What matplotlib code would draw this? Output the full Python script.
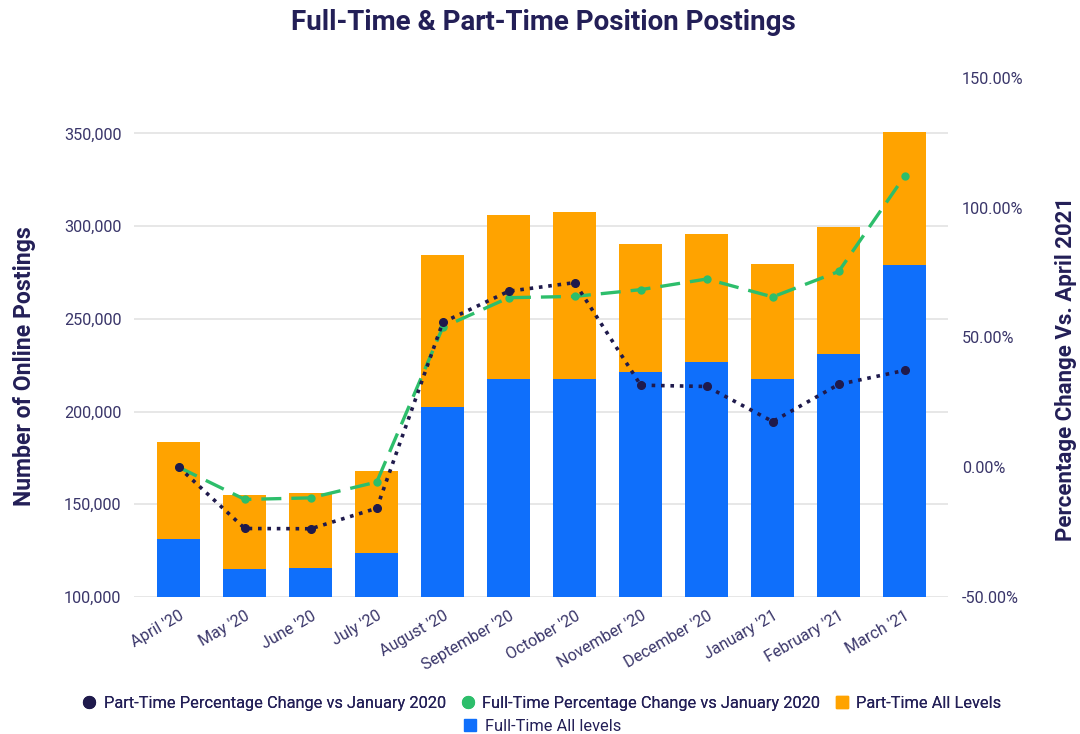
import matplotlib.pyplot as plt
from matplotlib.lines import Line2D
from matplotlib.ticker import FuncFormatter, MultipleLocator

#===============================================================================
months = ["April '20", "May '20", "June '20", "July '20", "August '20",
          "September '20", "October '20", "November '20", "December '20",
          "January '21", "February '21", "March '21"]

full_time = [131200, 115000, 115900, 123800, 202500, 217500,
             217800, 221500, 226900, 217800, 230800, 279100]
total_postings = [183800, 154800, 155900, 167900, 284300, 305800,
                  307800, 290500, 295900, 279500, 299800, 351000]
part_time = [t - f for t, f in zip(total_postings, full_time)]

part_time_pct = [0.0, -23.6, -23.7, -15.8, 55.8, 67.8,
                 71.1, 31.6, 31.1, 17.6, 31.9, 37.3]
full_time_pct = [0.0, -12.4, -11.8, -5.7, 53.9, 65.3,
                 65.8, 68.4, 72.5, 65.6, 75.4, 112.2]

#===============================================================================
NAVY = "#231F57"
TICK = "#3A366A"
BLUE = "#0F6FFB"
ORANGE = "#FFA300"
GREEN = "#2DBE6B"
DARK = "#1F1A4C"

plt.rcParams["font.family"] = ["Roboto", "DejaVu Sans"]

fig = plt.figure(figsize=(10.8, 7.34), dpi=100)
ax = fig.add_axes([0.124, 0.1866, 0.754, 0.7074])
ax2 = ax.twinx()

x = list(range(len(months)))
ax.bar(x, full_time, width=0.65, color=BLUE, zorder=2)
ax.bar(x, part_time, width=0.65, bottom=full_time, color=ORANGE, zorder=2)

ax.set_ylim(100000, 380000)
ax.set_xlim(-0.68, 11.66)
ax.set_yticks([100000, 150000, 200000, 250000, 300000, 350000])
ax.yaxis.set_major_formatter(FuncFormatter(lambda v, p: f"{int(v):,}"))
ax.grid(axis="y", color="#E3E3E3", linewidth=1.2, zorder=0)
ax.set_axisbelow(True)

ax.set_xticks(x)
ax.set_xticklabels(months, rotation=30, ha="right", rotation_mode="anchor")
ax.tick_params(axis="x", length=0, pad=8, labelsize=11.6, labelcolor=TICK)
ax.tick_params(axis="y", length=0, pad=9, labelsize=11.7, labelcolor=TICK)
for s in ax.spines.values():
    s.set_visible(False)

ax.set_ylabel("Number of Online Postings", fontsize=16.6, fontweight="bold",
              color=NAVY)
ax.yaxis.set_label_coords(-0.12, 0.445)

ax2.plot(x, part_time_pct, color=DARK, linestyle=(0, (1, 1.6)), linewidth=2.6,
         marker="o", markersize=5.5, zorder=4)
ax2.plot(x, full_time_pct, color=GREEN, linestyle=(0, (6, 3)), linewidth=2.4,
         marker="o", markersize=5, zorder=3)
ax2.set_ylim(-50, 150)
ax2.yaxis.set_major_locator(MultipleLocator(50))
ax2.yaxis.set_major_formatter(FuncFormatter(lambda v, p: f"{v:.2f}%"))
ax2.tick_params(axis="y", length=0, pad=10, labelsize=11.7, labelcolor=TICK)
for s in ax2.spines.values():
    s.set_visible(False)
ax2.set_ylabel("Percentage Change Vs. April 2021", fontsize=16,
               fontweight="bold", color=NAVY)
ax2.yaxis.set_label_coords(1.131, 0.44)

fig.suptitle("Full-Time & Part-Time Position Postings", x=0.503, y=0.988,
             fontsize=20, fontweight="bold", color=NAVY)

#===============================================================================
handles_row1 = [
    Line2D([], [], linestyle="none", marker="o", markersize=8.5, color=DARK),
    Line2D([], [], linestyle="none", marker="o", markersize=8.5, color=GREEN),
    Line2D([], [], linestyle="none", marker="s", markersize=8.5, color=ORANGE),
]
labels_row1 = ["Part-Time Percentage Change vs January 2020",
               "Full-Time Percentage Change vs January 2020",
               "Part-Time All Levels"]
leg1 = fig.legend(handles_row1, labels_row1, loc="center", ncol=3,
                  bbox_to_anchor=(0.502, 0.042), frameon=False, fontsize=11.8,
                  handlelength=0.8, handletextpad=0.5, columnspacing=0.9,
                  labelcolor=NAVY)
fig.add_artist(leg1)
handles_row2 = [Line2D([], [], linestyle="none", marker="s", markersize=8.5, color=BLUE)]
fig.legend(handles_row2, ["Full-Time All levels"], loc="center",
           bbox_to_anchor=(0.502, 0.01), frameon=False, fontsize=11.8,
           handlelength=0.8, handletextpad=0.5, labelcolor=NAVY)

fig.savefig("out.png", dpi=100)
